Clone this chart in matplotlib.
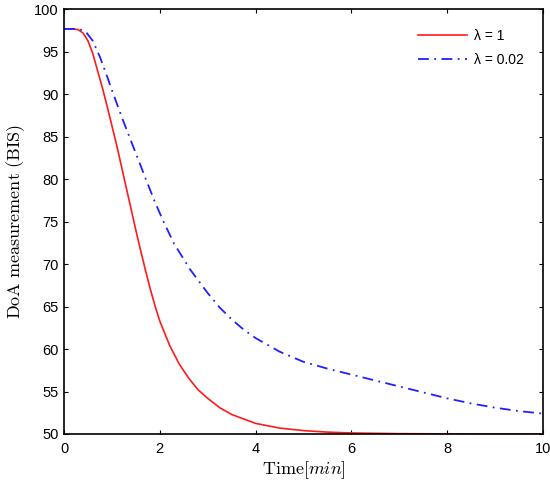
import numpy as np
import matplotlib
matplotlib.use("Agg")
import matplotlib.pyplot as plt

plt.rcParams.update({
    "font.family": "Liberation Sans",
    "mathtext.fontset": "cm",
    "font.size": 10.5,
    "axes.linewidth": 1.2,
})

# values
t_red = [0, 0.2, 0.3, 0.4, 0.5, 0.6, 0.7, 0.8, 0.9, 1.0, 1.1, 1.2, 1.3, 1.4, 1.5,
         1.6, 1.7, 1.8, 1.9, 2.0, 2.2, 2.4, 2.6, 2.8, 3.0, 3.25, 3.5, 4.0, 4.5,
         5.0, 5.5, 6.0, 7.0, 8.0, 10.0]
bis_red = [97.7, 97.7, 97.6, 97.2, 96.3, 94.8, 92.8, 90.8, 88.6, 86.3, 84.0, 81.5, 79.0, 76.5, 74.0,
           71.6, 69.3, 67.1, 65.1, 63.3, 60.5, 58.3, 56.6, 55.2, 54.2, 53.1, 52.3, 51.25, 50.7,
           50.4, 50.22, 50.12, 50.04, 50.01, 50.0]

t_blue = [0, 0.3, 0.45, 0.6, 0.75, 0.9, 1.0, 1.2, 1.42, 1.6, 1.73, 1.9, 2.07, 2.3, 2.63,
          3.0, 3.25, 3.5, 3.75, 4.0, 4.5, 5.0, 5.5, 6.0, 6.5, 7.0, 7.5, 8.0, 8.5,
          9.0, 9.5, 10.0]
bis_blue = [97.7, 97.7, 97.4, 96.3, 94.4, 92.1, 90.5, 87.4, 84.2, 81.6, 79.7, 77.3, 75.1, 72.4, 69.4,
            66.6, 64.9, 63.5, 62.3, 61.3, 59.7, 58.5, 57.7, 57.0, 56.3, 55.6, 54.9, 54.2, 53.6,
            53.1, 52.7, 52.4]

fig = plt.figure(figsize=(5.5, 4.86), dpi=100)
ax = fig.add_axes([0.1164, 0.107, 0.8706, 0.8737])

ax.plot(t_red, bis_red, color="#ff1a1a", lw=1.2, label="λ = 1")
ax.plot(t_blue, bis_blue, color="#2020ff", lw=1.3, linestyle=(0, (6, 3, 1, 3)), label="λ = 0.02")

ax.set_xlim(0, 10)
ax.set_ylim(50, 100)
ax.set_xticks(np.arange(0, 11, 2))
ax.set_yticks(np.arange(50, 101, 5))
ax.tick_params(direction="in", top=True, right=True, length=3, width=0.8)
ax.tick_params(axis="x", pad=6)
ax.tick_params(axis="y", pad=4)

ax.set_xlabel(r"$\mathrm{Time}[min]$", fontsize=13, labelpad=2)
ax.set_ylabel(r"$\mathrm{DoA\ measurement\ (BIS)}$", fontsize=13, labelpad=5)

ax.legend(loc="upper right", frameon=False, handlelength=3.5, fontsize=10,
          borderaxespad=1.0, labelspacing=0.7, handletextpad=0.5)

plt.savefig("out.png", dpi=100)
